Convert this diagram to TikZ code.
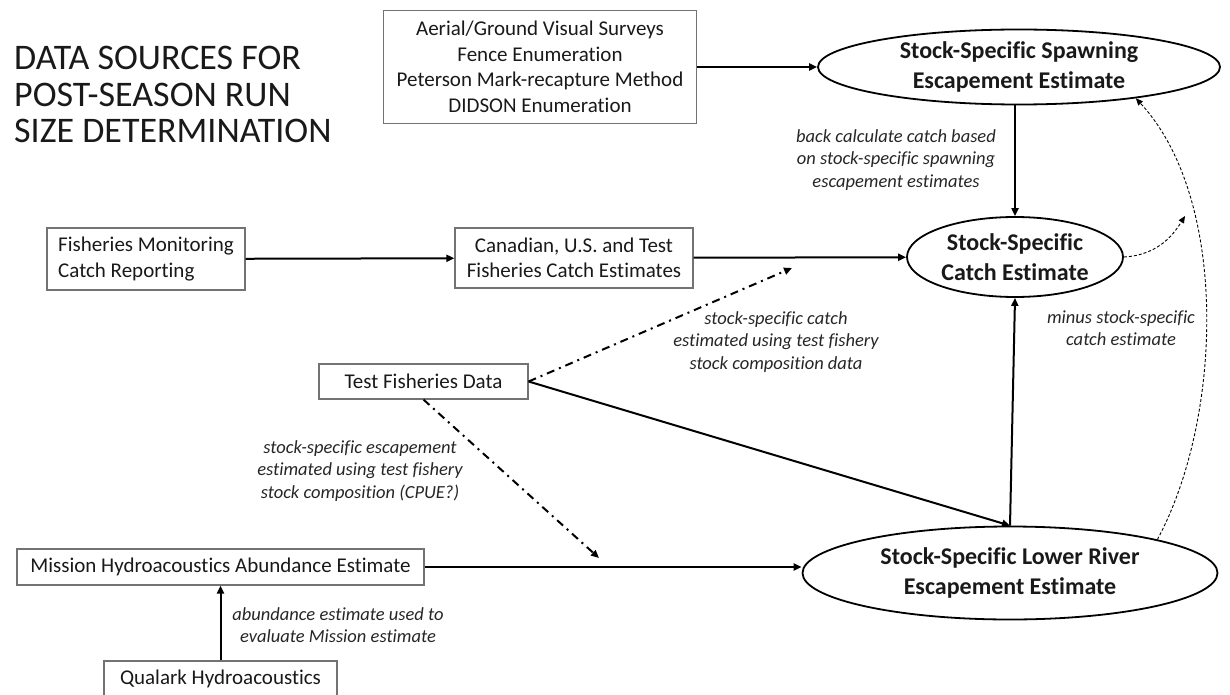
\documentclass[tikz,border=0pt]{standalone}
\usepackage{fontspec}
\setmainfont{Carlito}[Ligatures=NoCommon]
\usetikzlibrary{shapes.geometric,arrows.meta}

\begin{document}
\begin{tikzpicture}[x=1pt,y=-1pt,
        box/.style={draw=black!55,line width=1.2pt,inner sep=0pt,align=center,text=black!90,font=\fontsize{21}{25.5}\selectfont},
        est/.style={ellipse,draw,line width=1.8pt,inner sep=0pt,align=center,text=black!90,font=\fontsize{24}{29.5}\selectfont\bfseries},
        note/.style={align=center,inner sep=0pt,text=black!85,font=\fontsize{18.5}{22.5}\selectfont\itshape},
        link/.style={line width=2pt,-{Triangle[length=8pt,width=7pt]}},
        guess/.style={line width=2pt,dash pattern=on 8pt off 5pt on 2pt off 5pt,-{Triangle[length=8pt,width=7pt]}},
        minus/.style={line width=0.9pt,dash pattern=on 3pt off 2pt,-{Triangle[length=7pt,width=6pt]}}]
        \useasboundingbox (0,0) rectangle (1230,695);
        \clip (0,0) rectangle (1230,695);

        % \draw[help lines] (0,0) grid[step=50] (1230,695);
        \node[anchor=north west,align=left,inner sep=0pt,text=black!90,font=\fontsize{36}{36.5}\selectfont] (title) at (14,46)
            {DATA SOURCES FOR\\POST-SEASON RUN\\SIZE DETERMINATION};

        \node[box,minimum width=313pt,minimum height=113pt] (surveys) at (540,67)
            {Aerial/Ground Visual Surveys\\Fence Enumeration\\Peterson Mark-recapture Method\\DIDSON Enumeration};
        \node[est,minimum width=402pt,minimum height=75pt] (spawn) at (1019,67) {Stock-Specific Spawning\\Escapement Estimate};
        \node[est,minimum width=216pt,minimum height=80pt] (catch) at (1015,257) {Stock-Specific\\Catch Estimate};
        \node[est,minimum width=415pt,minimum height=93pt] (lower) at (1010,573) {Stock-Specific Lower River\\Escapement Estimate};

        \node[box,align=left,minimum width=198pt,minimum height=62pt] (monitor) at (146,259) {Fisheries Monitoring\\Catch Reporting};
        \node[box,minimum width=238pt,minimum height=60pt] (canada) at (574,258) {Canadian, U.S. and Test\\Fisheries Catch Estimates};
        \node[box,minimum width=209pt,minimum height=35pt] (testdata) at (423.5,381.5) {Test Fisheries Data};
        \node[box,minimum width=407pt,minimum height=36pt] (mission) at (220.5,567) {Mission Hydroacoustics Abundance Estimate};
        \node[box,minimum width=233pt,minimum height=36pt] (qualark) at (220.5,679) {Qualark Hydroacoustics};

        \node[note] (backnote) at (896,160) {back calculate catch based\\on stock-specific spawning\\escapement estimates};
        \node[note] (catchnote) at (776,342) {stock-specific catch\\estimated using test fishery\\stock composition data};
        \node[note] (escnote) at (360,471) {stock-specific escapement\\estimated using test fishery\\stock composition (CPUE?)};
        \node[note] (minusnote) at (1121,328) {minus stock-specific\\catch estimate};
        \node[note] (qualnote) at (338,625) {abundance estimate used to\\evaluate Mission estimate};

        \coordinate (catchtip) at (792,268);
        \coordinate (lowtip) at (599,558);
        \coordinate (bendtip) at (1185,216);

        \draw[link] (surveys) -- (spawn);
        \draw[link] (catch.north |- spawn.south) -- (catch.north);
        \draw[link] (monitor) -- (canada);
        \draw[link] (canada) -- (catch);
        \draw[guess] (testdata.east) -- (catchtip);
        \draw[guess] (testdata.south) -- (lowtip);
        \draw[link] (testdata.east) -- (lower.north);
        \draw[link] (lower.north) -- (catch.south);
        \draw[link] (mission.east) -- (mission.east -| lower.west);
        \draw[link] (qualark) -- (mission);
        \draw[minus] (catch.east) .. controls (1160,255) and (1175,232) .. (bendtip);
        \draw[minus] (lower.north east) .. controls (1222,420) and (1230,200) .. (spawn.-15);
\end{tikzpicture}
\end{document}
